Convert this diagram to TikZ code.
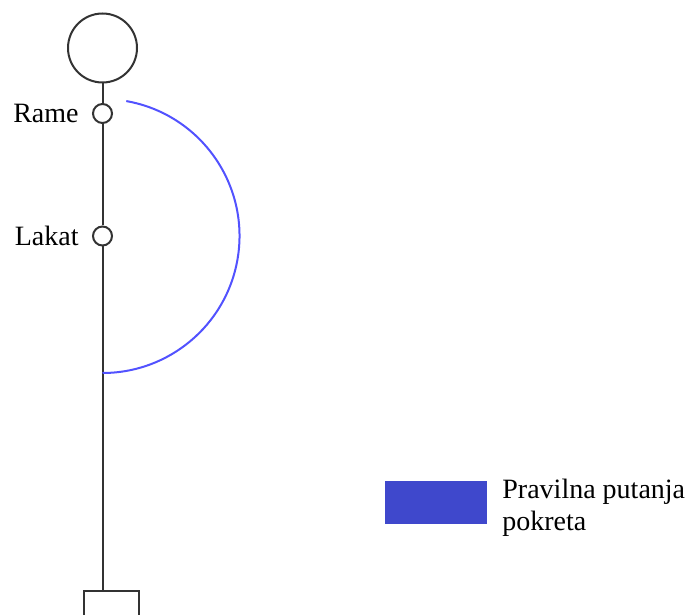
\documentclass[tikz,border=0pt]{standalone}
\usepackage{fontspec}
\setmainfont{Liberation Serif}
\usetikzlibrary{positioning}

\definecolor{limb}{HTML}{333333}
\definecolor{putanja}{HTML}{5252FF}
\definecolor{legenda}{HTML}{3F48CC}

\tikzset{
    bone/.style={draw=limb, line width=1pt},
    joint/.style={circle, bone, fill=white, minimum size=9.5pt, inner sep=0pt},
    label/.style={inner sep=0pt, font=\fontsize{14}{16}\selectfont},
}

\begin{document}
\begin{tikzpicture}[x=0.5pt, y=-0.5pt]
    \clip (0,0) rectangle (694,614);
    % figure
    \node [circle, bone, minimum size=34.5pt, inner sep=0pt] (head) at (102.5,48) {};
    \node [joint] (rame) at (102.5,113.5) {};
    \node [joint] (lakat) at (102.5,236) {};
    \node [bone, minimum width=27.5pt, minimum height=16pt, inner sep=0pt] (base) at (111.5,607) {};
    \draw [bone] (head) -- (rame) -- (lakat) -- (base.north -| lakat);
    \node [label, left=6.5pt of rame] {Rame};
    \node [label, left=6.5pt of lakat] {Lakat};
    % path of the movement
    \draw [putanja, line width=1pt] ([shift={(80:68.5pt)}]lakat.center) arc [start angle=80, end angle=-90, radius=68.5pt];
    % legend
    \node [fill=legenda, minimum width=51pt, minimum height=21.5pt, inner sep=0pt] (key) at (436,502.5) {};
    \node [label, align=left, anchor=north west] at (502,479) {Pravilna putanja\\pokreta};
\end{tikzpicture}
\end{document}
